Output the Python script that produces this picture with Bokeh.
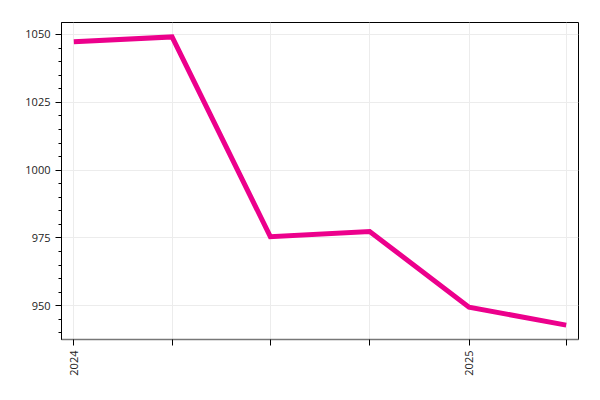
import math
import pandas as pd
from bokeh.plotting import figure
from bokeh.models import FixedTicker, SingleIntervalTicker, DataRange1d
from bokeh.embed import file_html
from bokeh.resources import INLINE

dates = ["2024-01-01", "2024-04-01", "2024-07-01", "2024-10-01", "2025-01-01", "2025-04-01"]
values = [1047.3, 1049.1, 975.5, 977.4, 949.5, 942.9]
tick_labels = ["2024", "", "", "", "2025", ""]

x = pd.to_datetime(dates)
ms = [float(t.value // 10**6) for t in x]

p = figure(width=592, height=392, x_axis_type="datetime",
           output_backend="svg", toolbar_location=None,
           x_range=DataRange1d(range_padding=0.05),
           min_border_left=61, min_border_top=22, min_border_right=14, min_border_bottom=53)

p.line(x, values, line_width=5, line_color="#EC008C", line_join="miter")

p.xaxis.ticker = FixedTicker(ticks=ms, minor_ticks=[])
p.xaxis.major_label_overrides = {m: l for m, l in zip(ms, tick_labels)}
p.xaxis.major_label_orientation = math.pi / 2
p.yaxis.ticker = SingleIntervalTicker(interval=25, num_minor_ticks=5)

for ax in (p.xaxis[0], p.yaxis[0]):
    ax.major_label_text_font = "Open Sans"
    ax.major_label_text_font_size = "11px"
    ax.major_label_text_color = "#222222"
    ax.axis_line_color = "black"
    ax.major_tick_line_color = "black"
    ax.minor_tick_line_color = "black"
    ax.major_tick_in = 0
    ax.minor_tick_in = 0
    ax.major_tick_out = 6
    ax.minor_tick_out = 3

p.xaxis.axis_line_color = "#777777"
p.xaxis.axis_line_width = 1.6

p.outline_line_color = "black"
p.outline_line_alpha = 1.0
p.grid.grid_line_color = "#ececec"

open("out.html", "w").write(file_html(p, INLINE))
